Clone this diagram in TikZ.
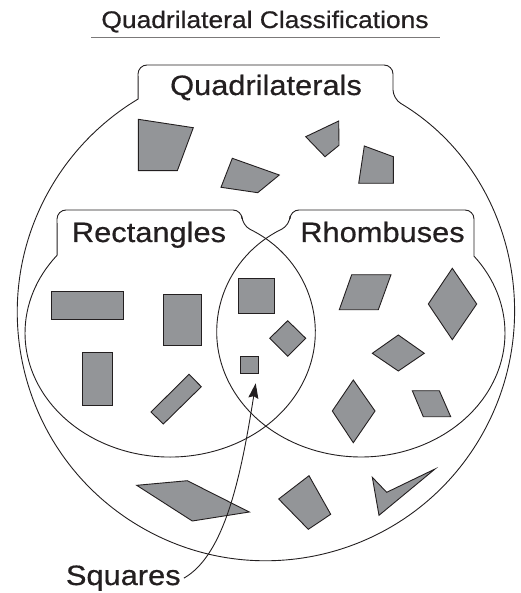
\documentclass[tikz,border=0pt]{standalone}
\usepackage{fontspec}
\setmainfont{Liberation Sans}[FakeStretch=1.1, FakeBold=0.6]
\usetikzlibrary{arrows.meta}
\definecolor{piecegray}{RGB}{147,149,152}
\definecolor{ink}{RGB}{35,31,32}
\tikzset{
  outline/.style={draw=ink, line width=0.9pt},
  piece/.style={draw=ink, fill=piecegray, line width=0.9pt},
  setlabel/.style={anchor=base, inner sep=0pt, text=ink, font=\fontsize{28}{30}\selectfont},
}
\begin{document}
\begin{tikzpicture}[x=1pt,y=-1pt] %screen coordinates
  \useasboundingbox (0,0) rectangle (520,593);
  \node (title) [anchor=base, inner sep=0pt, text=ink, font=\fontsize{24}{26}\selectfont] at (265,28) {Quadrilateral Classifications};
  \draw [draw=ink!60, line width=0.8pt] (91,37) -- (440,37);
  % sets
  \draw [outline] (393,98.8) arc[start angle=300.8, end angle=599.1, radius=248.5]
    [rounded corners=9pt] -- (138,65) -- (393,65) -- cycle;
  \draw [outline] (242,225.4) arc[start angle=299.77, end angle=578.9, x radius=145, y radius=124]
    [rounded corners=9pt] -- (57,210) -- (242,210) -- cycle;
  \draw [outline] (290,225.1) arc[start angle=240.46, end angle=-38.3, x radius=144, y radius=124]
    [rounded corners=9pt] -- (474,210) -- (290,210) -- cycle;
  \node (quad) [setlabel] at (266,95) {Quadrilaterals};
  \node (rect) [setlabel] at (149,242) {Rectangles};
  \node (rhomb) [setlabel] at (382.5,242) {Rhombuses};
  \node (squares) [setlabel, inner xsep=3pt] at (123.3,585) {Squares};
  % quadrilaterals
  \draw [piece] (138.3,119.3) -- (193.3,127.7) -- (177.3,170.7) -- (138.3,170.7) -- cycle;
  \draw [piece] (232.3,158.3) -- (279.3,175) -- (257.7,192.7) -- (221,187.3) -- cycle;
  \draw [piece] (305.7,136.7) -- (338.7,121) -- (339,145.3) -- (325,156.7) -- cycle;
  \draw [piece] (364.3,146) -- (393.3,156.7) -- (393.3,183.3) -- (358.7,183.3) -- cycle;
  \draw [piece] (136.7,485.3) -- (187.3,480.7) -- (249.3,512) -- (192.3,521) -- cycle;
  \draw [piece] (278.7,499) -- (309,475.7) -- (330.7,514.3) -- (308.3,529.3) -- cycle;
  \draw [piece] (372.3,477.3) -- (386.7,492.3) -- (435,469) -- (379,515.3) -- cycle;
  % rectangles
  \draw [piece] (51.7,291.7) rectangle (123.3,319);
  \draw [piece] (163,294.3) rectangle (201.7,345.3);
  \draw [piece] (82.3,352) rectangle (112.3,405.7);
  \draw [piece] (151,412) -- (189,374.3) -- (201.3,386.7) -- (163.3,424) -- cycle;
  % squares
  \draw [piece] (238.7,278.7) rectangle (274.7,313.7);
  \draw [piece] (287.7,320.7) -- (305.7,338.3) -- (287.7,356.3) -- (269.7,338.3) -- cycle;
  \draw [piece] (240,356) rectangle (258.3,373.3);
  % rhombuses
  \draw [piece] (351.7,274.7) -- (391,274.7) -- (378.3,309.7) -- (339.3,309.7) -- cycle;
  \draw [piece] (452.3,268.3) -- (476.7,304) -- (452.3,339.7) -- (428.3,304) -- cycle;
  \draw [piece] (398.3,335) -- (424.3,353.3) -- (398.3,371) -- (372.3,353.3) -- cycle;
  \draw [piece] (353.3,380) -- (375,411) -- (353.3,442.7) -- (332.3,411) -- cycle;
  \draw [piece] (412.3,390.7) -- (439.3,390.7) -- (450.7,416.7) -- (423.3,416.7) -- cycle;
  % pointer
  \coordinate (sqtip) at (255.7,383.3);
  \draw [outline, -{Stealth[length=15pt, width=10pt, inset=2pt]}] (squares.east) .. controls (225,555) and (241.3,474.5) .. (sqtip);
\end{tikzpicture}
\end{document}
